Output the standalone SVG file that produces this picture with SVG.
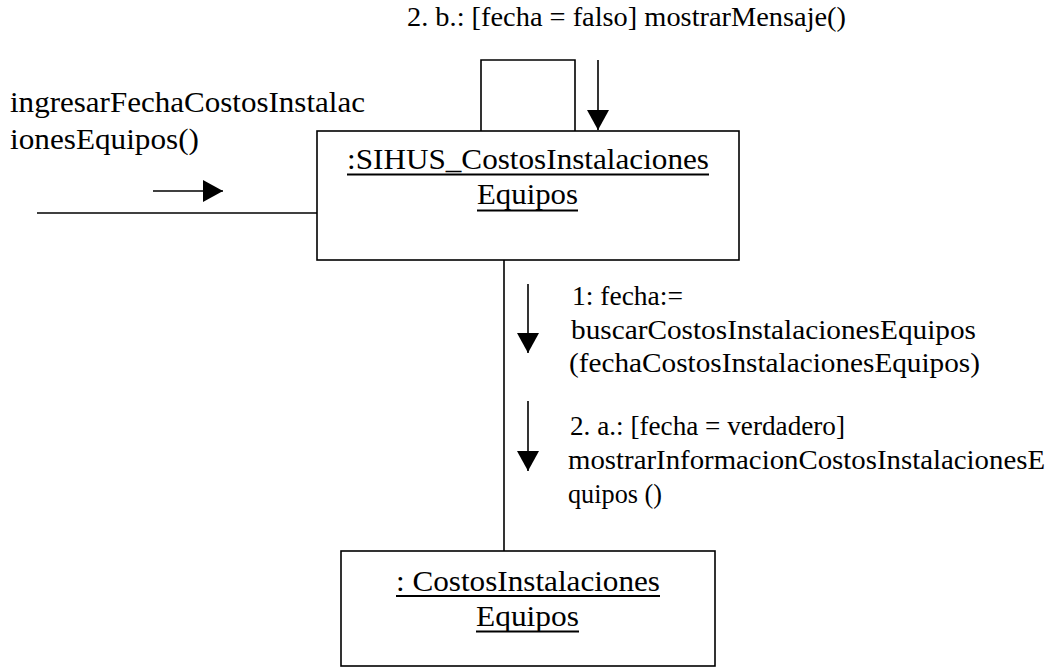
<svg xmlns="http://www.w3.org/2000/svg" width="1048" height="668" viewBox="0 0 1048 668">
  <style>
    .box { fill: #fff; stroke: #000; stroke-width: 1.6; }
    .ln { fill: none; stroke: #000; stroke-width: 1.6; }
    .ul { stroke: #000; stroke-width: 1.8; }
    text { font-family: "Liberation Serif", "Times New Roman", serif; fill: #000; }
    .lbl { font-size: 28px; }
    .nm { font-size: 30px; }
  </style>
  <defs>
    <marker id="ah" markerUnits="userSpaceOnUse" markerWidth="21" markerHeight="22" refX="20" refY="11" orient="auto">
      <path d="M0,0 L20,11 L0,22 Z" fill="#000"/>
    </marker>
  </defs>
  <rect width="1048" height="668" fill="#fff"/>

  <g id="connectors">
    <line class="ln" x1="37" y1="213" x2="317" y2="213"/>
    <path class="ln" d="M481,131 V60 H575 V131"/>
    <line class="ln" x1="504" y1="260" x2="504" y2="551"/>
    <line class="ln" x1="153" y1="191" x2="223" y2="191" marker-end="url(#ah)"/>
    <line class="ln" x1="598" y1="60" x2="598" y2="130" marker-end="url(#ah)"/>
    <line class="ln" x1="528" y1="284" x2="528" y2="353" marker-end="url(#ah)"/>
    <line class="ln" x1="528" y1="401" x2="528" y2="471" marker-end="url(#ah)"/>
  </g>

  <g id="labels">
    <text class="lbl" x="407" y="26" textLength="439" lengthAdjust="spacingAndGlyphs">2. b.: [fecha = falso] mostrarMensaje()</text>
    <text class="nm" x="10" y="112" textLength="355" lengthAdjust="spacingAndGlyphs">ingresarFechaCostosInstalac</text>
    <text class="nm" x="10" y="149" textLength="189" lengthAdjust="spacingAndGlyphs">ionesEquipos()</text>
    <text class="lbl" x="572" y="305" textLength="111" lengthAdjust="spacingAndGlyphs">1: fecha:=</text>
    <text class="lbl" x="571" y="339" textLength="405" lengthAdjust="spacingAndGlyphs">buscarCostosInstalacionesEquipos</text>
    <text class="lbl" x="569" y="372" textLength="411" lengthAdjust="spacingAndGlyphs">(fechaCostosInstalacionesEquipos)</text>
    <text class="lbl" x="570" y="435" textLength="275" lengthAdjust="spacingAndGlyphs">2. a.: [fecha = verdadero]</text>
    <text class="lbl" x="568" y="469" textLength="477" lengthAdjust="spacingAndGlyphs">mostrarInformacionCostosInstalacionesE</text>
    <text class="lbl" x="568" y="503" textLength="94" lengthAdjust="spacingAndGlyphs">quipos ()</text>
  </g>

  <g id="node-sihus">
    <rect class="box" x="317" y="131" width="422" height="129"/>
    <text class="nm" x="347" y="169" textLength="362" lengthAdjust="spacingAndGlyphs">:SIHUS_CostosInstalaciones</text>
    <line class="ul" x1="347" y1="174.5" x2="709" y2="174.5"/>
    <text class="nm" x="477" y="204" textLength="101" lengthAdjust="spacingAndGlyphs">Equipos</text>
    <line class="ul" x1="477" y1="210.5" x2="578" y2="210.5"/>
  </g>

  <g id="node-costos">
    <rect class="box" x="341" y="551" width="374" height="115"/>
    <text class="nm" x="396" y="591" textLength="264" lengthAdjust="spacingAndGlyphs">: CostosInstalaciones</text>
    <line class="ul" x1="396" y1="596" x2="660" y2="596"/>
    <text class="nm" x="476" y="626" textLength="103" lengthAdjust="spacingAndGlyphs">Equipos</text>
    <line class="ul" x1="476" y1="631.5" x2="579" y2="631.5"/>
  </g>
</svg>
